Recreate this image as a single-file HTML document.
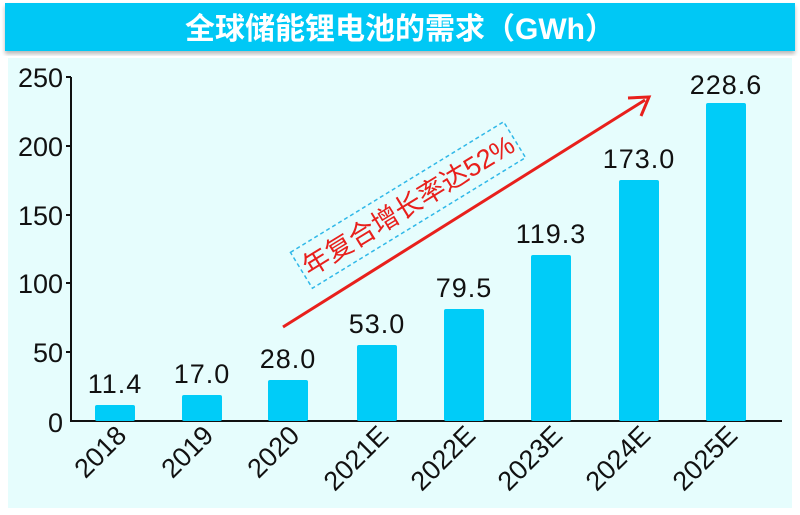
<!DOCTYPE html>
<html><head><meta charset="utf-8"><style>
body{margin:0;background:#fff;width:800px;height:510px;overflow:hidden}
</style></head><body>
<svg width="800" height="510" xmlns="http://www.w3.org/2000/svg" font-family="'Liberation Sans','Noto Sans CJK SC',sans-serif">
<defs><filter id="sh"><feDropShadow dx="0" dy="3" stdDeviation="2" flood-color="#888" flood-opacity="0.6"/></filter></defs>
<rect x="8" y="58" width="784" height="450" fill="#e6fdfd"/>
<rect x="5" y="3" width="790" height="48" fill="#00c8f5" filter="url(#sh)"/>
<text x="400" y="39" text-anchor="middle" fill="#fff" font-size="30" font-weight="bold">全球储能锂电池的需求（GWh）</text>
<g stroke="#111" stroke-width="2">
<line x1="71" y1="77" x2="71" y2="421"/>
<line x1="70" y1="421" x2="782" y2="421"/>
<line x1="66" y1="77" x2="71" y2="77"/><line x1="66" y1="146" x2="71" y2="146"/><line x1="66" y1="215" x2="71" y2="215"/><line x1="66" y1="283" x2="71" y2="283"/><line x1="66" y1="352" x2="71" y2="352"/>
</g>
<g font-size="27" fill="#111" text-anchor="end">
<text x="63" y="87">250</text><text x="63" y="156">200</text><text x="63" y="225">150</text><text x="63" y="293">100</text><text x="63" y="362">50</text><text x="63" y="432">0</text>
</g>
<g fill="#00ccf8">
<rect x="95" y="405" width="40" height="16" rx="2"/>
<rect x="182" y="395" width="40" height="26" rx="2"/>
<rect x="268" y="380" width="40" height="41" rx="2"/>
<rect x="357" y="345" width="40" height="76" rx="2"/>
<rect x="444" y="309" width="40" height="112" rx="2"/>
<rect x="531" y="255" width="40" height="166" rx="2"/>
<rect x="619" y="180" width="40" height="241" rx="2"/>
<rect x="706" y="103" width="40" height="318" rx="2"/>
</g>
<g font-size="27" fill="#111" text-anchor="middle" letter-spacing="1">
<text x="115" y="393">11.4</text><text x="202" y="383">17.0</text><text x="288" y="368">28.0</text><text x="377" y="333">53.0</text><text x="464" y="297">79.5</text><text x="551" y="243">119.3</text><text x="639" y="168">173.0</text><text x="726" y="94">228.6</text>
</g>
<g font-size="27" fill="#111" text-anchor="end">
<text transform="translate(128,437) rotate(-45)">2018</text>
<text transform="translate(215,437) rotate(-45)">2019</text>
<text transform="translate(301,437) rotate(-45)">2020</text>
<text transform="translate(390,437) rotate(-45)">2021E</text>
<text transform="translate(477,437) rotate(-45)">2022E</text>
<text transform="translate(564,437) rotate(-45)">2023E</text>
<text transform="translate(652,437) rotate(-45)">2024E</text>
<text transform="translate(739,437) rotate(-45)">2025E</text>
</g>
<line x1="283" y1="327" x2="645" y2="100" stroke="#e8201c" stroke-width="3"/>
<polyline points="628,98 649,97 641,116" fill="none" stroke="#e8201c" stroke-width="3"/>
<g transform="translate(408,205) rotate(-31.5)">
<rect x="-125" y="-21" width="250" height="42" fill="none" stroke="#30b8e8" stroke-width="1.5" stroke-dasharray="4,3"/>
<text x="0" y="10" text-anchor="middle" font-size="27" fill="#e8201c">年复合增长率达52%</text>
</g>
</svg>
</body></html>
